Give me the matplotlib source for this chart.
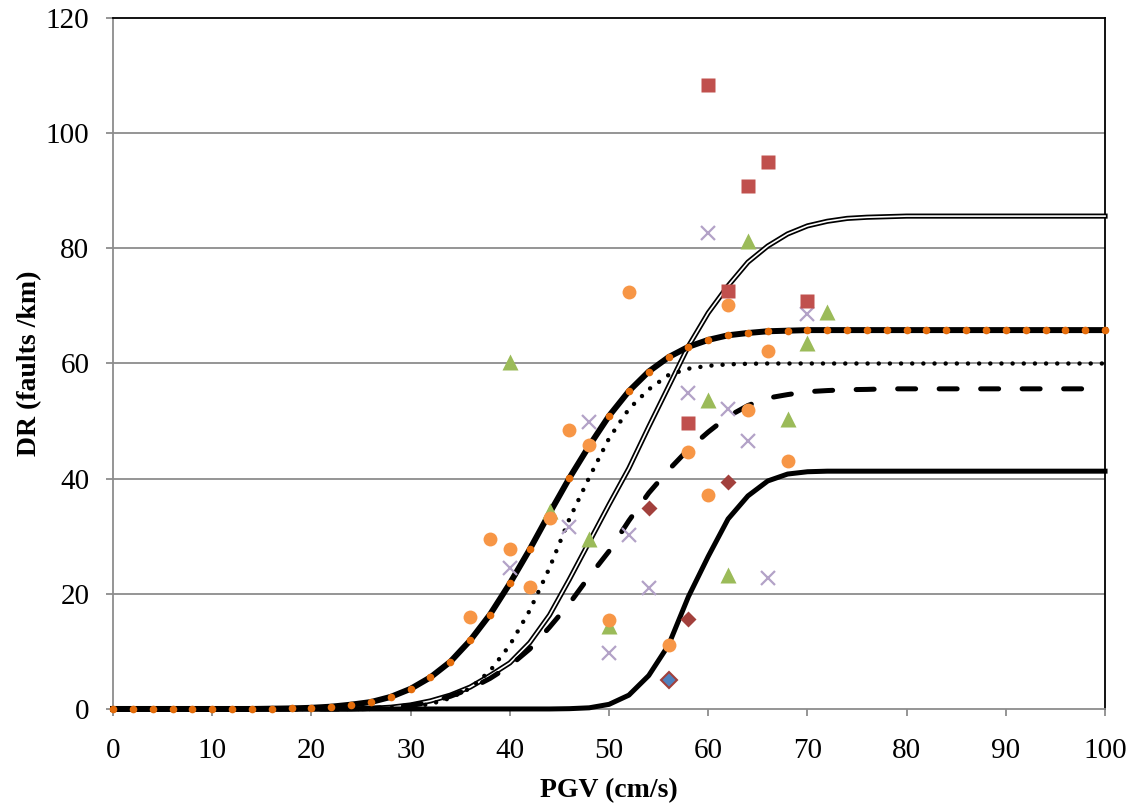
import matplotlib
matplotlib.use("Agg")
import matplotlib.pyplot as plt
import numpy as np

plt.rcParams['font.family'] = ['Liberation Serif', 'DejaVu Serif']

# PGV grid of the fitted curves (cm/s)
pgv = np.arange(0, 101, 2)

# fitted curves, DR (faults/km)
curve_dotted_orange = [0, 0, 0, 0, 0, 0, 0, 0, 0.05, 0.1, 0.2, 0.4, 0.75, 1.2, 2.1,
                       3.5, 5.5, 8.2, 11.9, 16.4, 21.8, 27.7, 34.0, 40.1, 45.7, 50.9,
                       55.2, 58.6, 61.1, 62.9, 64.1, 64.9, 65.3, 65.6, 65.7,
                       65.8, 65.8, 65.8, 65.8, 65.8, 65.8, 65.8, 65.8, 65.8, 65.8,
                       65.8, 65.8, 65.8, 65.8, 65.8, 65.8]
curve_dotted = [0, 0, 0, 0, 0, 0, 0, 0, 0, 0, 0, 0, 0, 0,
                0.2, 0.4, 0.85, 1.9, 3.6, 6.6, 11.1, 17.1, 24.5, 33.0, 40.2, 47.0,
                52.1, 55.5, 58.0, 59.1, 59.6, 59.85, 59.95,
                60, 60, 60, 60, 60, 60, 60, 60, 60, 60, 60, 60, 60, 60, 60, 60, 60, 60]
curve_double = [0, 0, 0, 0, 0, 0, 0, 0, 0, 0, 0, 0, 0,
                0.1, 0.3, 0.7, 1.4, 2.4, 3.8, 5.8, 8.0, 11.5, 16.3, 22.5, 29.0, 35.5,
                41.8, 49.0, 56.0, 63.0, 68.8, 73.5, 77.6, 80.4, 82.5, 83.9, 84.7,
                85.2, 85.4, 85.5,
                85.6, 85.6, 85.6, 85.6, 85.6, 85.6, 85.6, 85.6, 85.6, 85.6, 85.6]
curve_dashed = [0, 0, 0, 0, 0, 0, 0, 0, 0, 0, 0, 0, 0,
                0.1, 0.3, 0.6, 1.2, 2.2, 3.5, 5.3, 7.5, 10.4, 14.2, 18.3, 23.0, 27.4,
                32.7, 37.5, 41.5, 45.1, 48.1, 50.8, 52.7, 54.0, 54.6, 55.1, 55.3,
                55.45, 55.5,
                55.6, 55.6, 55.6, 55.6, 55.6, 55.6, 55.6, 55.6, 55.6, 55.6, 55.6, 55.6]
curve_solid = [0, 0, 0, 0, 0, 0, 0, 0, 0, 0, 0, 0, 0, 0, 0, 0, 0, 0, 0, 0, 0, 0, 0,
               0.05, 0.2, 0.8, 2.4, 5.8, 11.1, 19.5, 26.5, 33.0, 37.0, 39.6, 40.8, 41.2,
               41.3, 41.3, 41.3, 41.3, 41.3, 41.3, 41.3, 41.3, 41.3, 41.3, 41.3,
               41.3, 41.3, 41.3, 41.3]

# observed damage ratios
sq_x = [60, 64, 66, 62, 70, 58]
sq_y = [108.4, 90.9, 95.0, 72.6, 70.9, 49.7]
circ_x = [36, 38, 40, 42, 44, 46, 48, 50, 52, 56, 58, 60, 62, 64, 66, 68]
circ_y = [15.9, 29.6, 27.8, 21.2, 33.1, 48.5, 45.9, 15.5, 72.5, 11.1, 44.6, 37.2,
          70.2, 51.9, 62.1, 43.1]
tri_x = [40, 44, 48, 50, 60, 62, 64, 68, 70, 72]
tri_y = [60.3, 34.3, 29.5, 14.4, 53.7, 23.2, 81.3, 50.3, 63.5, 68.9]
cross_x = [40, 46, 48, 50, 52, 54, 58, 60, 62, 64, 66, 70]
cross_y = [24.4, 31.6, 49.9, 9.7, 30.3, 21.0, 54.9, 82.6, 52.1, 46.6, 22.8, 68.6]
dia_x = [54, 58, 62]
dia_y = [34.9, 15.6, 39.5]
blue_x = [56]
blue_y = [5.0]

fig = plt.figure(figsize=(11.35, 8.05), dpi=100)
ax = fig.add_axes([0.0996, 0.1193, 0.874, 0.8583])

grid_c = '#8c8c8c'
for yv in range(20, 120, 20):
    ax.axhline(yv, color=grid_c, lw=1.3, zorder=1)

# curves
ax.plot(pgv, curve_double, color='black', lw=3.7, zorder=3, clip_on=False)
ax.plot(pgv, curve_double, color='white', lw=1.2, zorder=3.1, clip_on=False)
ax.plot(pgv, curve_dashed, color='black', lw=3.6, dashes=(3.6, 4.7),
        dash_capstyle='round', zorder=3.2, clip_on=False)
ax.plot(pgv, curve_dotted, color='black', lw=3.2, dashes=(0.01, 2.5),
        dash_capstyle='round', zorder=3.3, clip_on=False)
ax.plot(pgv, curve_solid, color='black', lw=3.6, zorder=3.4, clip_on=False,
        solid_joinstyle='round')
ax.plot(pgv, curve_dotted_orange, color='black', lw=4.3, marker='o', ms=5.5,
        mfc='#e46c0a', mec='none', zorder=3.5, clip_on=False)

# scatter
ax.plot(cross_x, cross_y, ls='none', marker='x', ms=10, mew=1.6,
        color='#b3a2c7', zorder=4)
ax.plot(tri_x, tri_y, ls='none', marker='^', ms=11, mec='none',
        color='#9bbb59', zorder=4.1)
ax.plot(circ_x, circ_y, ls='none', marker='o', ms=10, mec='none',
        color='#f79646', zorder=4.2)
ax.plot(sq_x, sq_y, ls='none', marker='s', ms=10, mec='none',
        color='#c0504d', zorder=4.3)
ax.plot(dia_x, dia_y, ls='none', marker='D', ms=8, mec='none',
        color='#a2403c', zorder=4.4)
ax.plot(blue_x, blue_y, ls='none', marker='D', ms=8, mec='#a2403c', mew=1.5,
        mfc='#4f81bd', zorder=4.5)

ax.set_xlim(0, 100)
ax.set_ylim(0, 120)
ax.set_xticks(range(0, 101, 10))
ax.set_yticks(range(0, 121, 20))

for s in ['left', 'bottom']:
    ax.spines[s].set_color(grid_c)
    ax.spines[s].set_linewidth(1.3)
for s in ['top', 'right']:
    ax.spines[s].set_color('black')
    ax.spines[s].set_linewidth(1.3)

ax.tick_params(axis='both', direction='out', length=5, width=1.3, color=grid_c,
               labelsize=21, labelcolor='black')
ax.tick_params(axis='x', pad=16)
ax.tick_params(axis='y', pad=12)

ax.set_xlabel('PGV (cm/s)', fontsize=20, fontweight='bold', labelpad=10)
ax.set_ylabel('DR (faults /km)', fontsize=20, fontweight='bold', labelpad=3)

fig.savefig('out.png', dpi=100)
